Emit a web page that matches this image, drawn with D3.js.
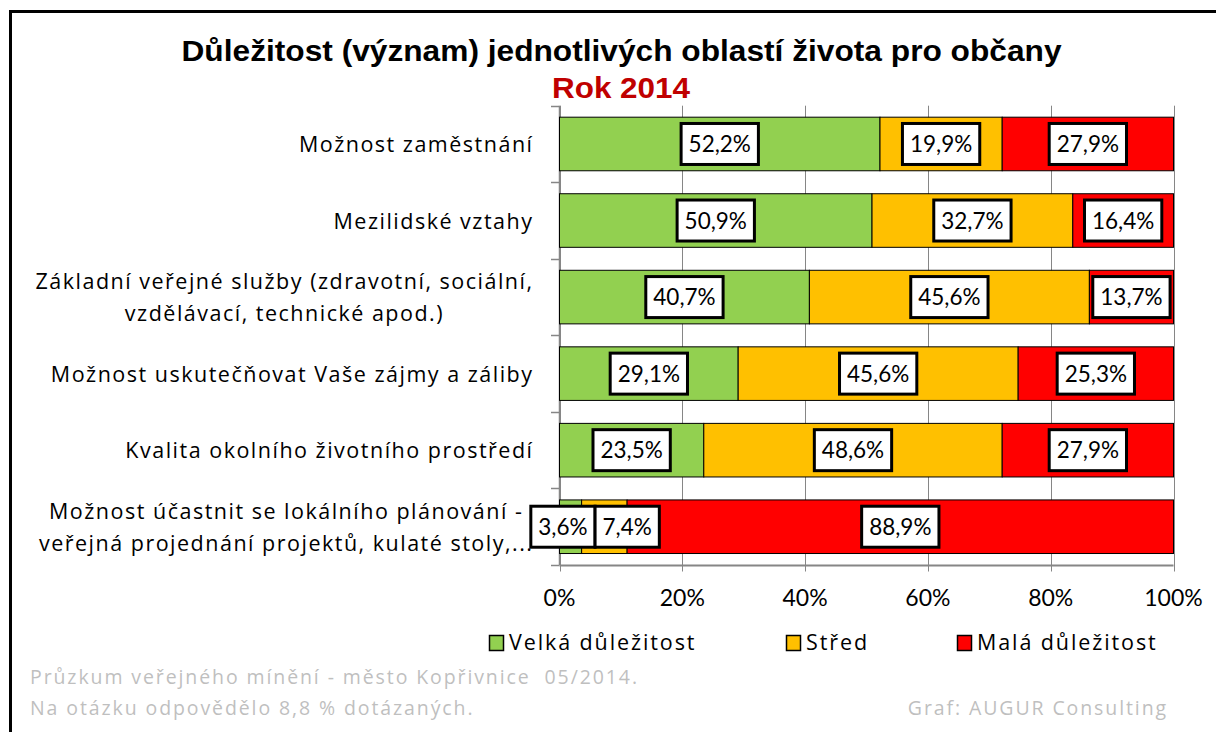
<!DOCTYPE html>
<html><head><meta charset="utf-8">
<script src="https://cdn.jsdelivr.net/npm/d3@7"></script>
<style>body{margin:0;background:#fff}svg{display:block}text{white-space:pre}</style>
</head><body><svg id="c" width="1216" height="732"></svg>
<script>
const categories = [
  ["Možnost zaměstnání"],
  ["Mezilidské vztahy"],
  ["Základní veřejné služby (zdravotní, sociální,", "vzdělávací, technické apod.)"],
  ["Možnost uskutečňovat Vaše zájmy a záliby"],
  ["Kvalita okolního životního prostředí"],
  ["Možnost účastnit se lokálního plánování -", "veřejná projednání projektů, kulaté stoly,..."]
];
const seriesNames = ["Velká důležitost", "Střed", "Malá důležitost"];
const velka = [52.2, 50.9, 40.7, 29.1, 23.5, 3.6];
const stred = [19.9, 32.7, 45.6, 45.6, 48.6, 7.4];
const mala  = [27.9, 16.4, 13.7, 25.3, 27.9, 88.9];
const tickValues = [0, 0.2, 0.4, 0.6, 0.8, 1.0];
const tickLabels = ["0%", "20%", "40%", "60%", "80%", "100%"];
const colors = ["#92d050", "#ffc000", "#ff0000"];
const title = "Důležitost (význam) jednotlivých oblastí života pro občany";
const subtitle = "Rok 2014";
const footer1 = "Průzkum veřejného mínění - město Kopřivnice  05/2014.";
const footer2 = "Na otázku odpovědělo 8,8 % dotázaných.";
const credit = "Graf: AUGUR Consulting";

const svg = d3.select("#c");
const FONT = "Lato, 'Open Sans', sans-serif";
const FONT2 = "'Open Sans', Lato, sans-serif";

// frame
svg.append("rect").attr("x", 10.5).attr("y", 11.5).attr("width", 1230).attr("height", 760)
  .attr("fill", "none").attr("stroke", "#000").attr("stroke-width", 3);

// titles
svg.append("text").attr("x", 621.5).attr("y", 60.5).attr("text-anchor", "middle")
  .attr("font-family", "'Liberation Sans', Arial, sans-serif").attr("font-weight", "bold")
  .attr("font-size", 29).attr("textLength", 880).attr("lengthAdjust", "spacingAndGlyphs")
  .text(title);
svg.append("text").attr("x", 621).attr("y", 98).attr("text-anchor", "middle")
  .attr("font-family", "'Liberation Sans', Arial, sans-serif").attr("font-weight", "bold")
  .attr("font-size", 30).attr("fill", "#c00000").attr("textLength", 138).attr("lengthAdjust", "spacingAndGlyphs")
  .text(subtitle);

const x = d3.scaleLinear().domain([0, 1]).range([559.5, 1173.5]);
const y = d3.scaleBand().domain(d3.range(categories.length)).range([105.7, 565]).paddingInner(0.3).paddingOuter(0.15);

const rows = categories.map((c, i) => ({i, v0: velka[i], v1: stred[i], v2: mala[i]}));
const stack = d3.stack().keys(["v0", "v1", "v2"]).offset(d3.stackOffsetExpand);
const stacked = stack(rows);

const grey = "#868686";
// gridlines
svg.append("g").selectAll("line").data(tickValues).join("line")
  .attr("x1", d => Math.round(x(d)) + 0.5).attr("x2", d => Math.round(x(d)) + 0.5)
  .attr("y1", 105.7).attr("y2", 571.5).attr("stroke", grey).attr("stroke-width", 1);
// left axis
svg.append("line").attr("x1", 559.5).attr("x2", 559.5).attr("y1", 105.7).attr("y2", 565)
  .attr("stroke", grey).attr("stroke-width", 1.5);
const bounds = d3.range(categories.length + 1).map(k => 105.7 + k * y.step());
svg.append("g").selectAll("line").data(bounds).join("line")
  .attr("x1", 551).attr("x2", 559.5).attr("y1", d => Math.round(d) + 0.5).attr("y2", d => Math.round(d) + 0.5)
  .attr("stroke", grey).attr("stroke-width", 1.5);
// bottom axis
svg.append("line").attr("x1", 559.5).attr("x2", 1173.5).attr("y1", 565.5).attr("y2", 565.5)
  .attr("stroke", grey).attr("stroke-width", 2);

// bars
stacked.forEach((s, si) => {
  svg.append("g").selectAll("rect").data(s).join("rect")
    .attr("x", d => x(d[0])).attr("width", d => x(d[1]) - x(d[0]))
    .attr("y", (d, i) => y(i)).attr("height", y.bandwidth())
    .attr("fill", colors[si]).attr("stroke", "#000").attr("stroke-width", 1);
});

// data labels
const LF = 22.5;
const lblG = svg.append("g");
const vals = [velka, stred, mala];
categories.forEach((c, i) => {
  const items = [];
  stacked.forEach((s, si) => {
    const d = s[i];
    const txt = vals[si][i].toFixed(1).replace(".", ",") + "%";
    const t = lblG.append("text").attr("font-family", FONT).attr("font-size", LF).text(txt);
    const w = t.node().getComputedTextLength() + 15;
    items.push({t, w, cx: (x(d[0]) + x(d[1])) / 2});
  });
  // simple overlap resolution
  for (let k = 1; k < items.length; k++) {
    const a = items[k - 1], b = items[k];
    const ov = (a.cx + a.w / 2) - (b.cx - b.w / 2);
    if (ov > 0) { a.cx -= ov * 0.25; b.cx += ov * 0.75; }
  }
  const cy = y(i) + y.bandwidth() / 2;
  items.forEach(it => {
    lblG.insert("rect", () => it.t.node())
      .attr("x", it.cx - it.w / 2).attr("y", cy - 20.5).attr("width", it.w).attr("height", 41)
      .attr("fill", "#fff").attr("stroke", "#000").attr("stroke-width", 3);
    it.t.attr("x", it.cx).attr("y", cy + 8).attr("text-anchor", "middle").attr("fill", "#000");
  });
});

// category labels
const catG = svg.append("g");
categories.forEach((lines, i) => {
  const cy = y(i) + y.bandwidth() / 2;
  const g = catG.append("g");
  const ts = lines.map((ln, k) => g.append("text").attr("font-family", FONT2).attr("font-size", 21.5)
      .attr("letter-spacing", 1.5)
      .attr("text-anchor", "middle").attr("fill", "#000")
      .attr("y", cy + 8 + (k - (lines.length - 1) / 2) * 32).text(ln));
  const maxW = d3.max(ts, t => t.node().getComputedTextLength());
  ts.forEach(t => t.attr("x", 533.5 - maxW / 2));
});

// tick labels
svg.append("g").selectAll("text").data(tickValues).join("text")
  .attr("x", d => x(d)).attr("y", 606).attr("text-anchor", "middle")
  .attr("font-family", FONT).attr("font-size", 23).attr("fill", "#000")
  .text((d, i) => tickLabels[i]);

// legend
const legX = [489, 786, 957];
const lg = svg.append("g");
seriesNames.forEach((n, i) => {
  lg.append("rect").attr("x", legX[i] + 0.5).attr("y", 635.5).attr("width", 14).attr("height", 15)
    .attr("fill", colors[i]).attr("stroke", "#000").attr("stroke-width", 1.5);
  lg.append("text").attr("x", legX[i] + 20).attr("y", 650).attr("font-family", FONT2).attr("font-size", 21.5)
    .attr("letter-spacing", 1.9).attr("fill", "#000").text(n);
});

// footer
const fc = "#bfbfbf";
const ft = (txt, xx, yy, anchor) => svg.append("text").attr("x", xx).attr("y", yy).attr("text-anchor", anchor)
  .attr("font-family", FONT2).attr("font-size", 19.5).attr("letter-spacing", 1.9).attr("fill", fc).text(txt);
ft(footer1, 30, 684, "start");
ft(footer2, 30, 715, "start");
ft(credit, 1168, 715, "end");
</script>
</body></html>
